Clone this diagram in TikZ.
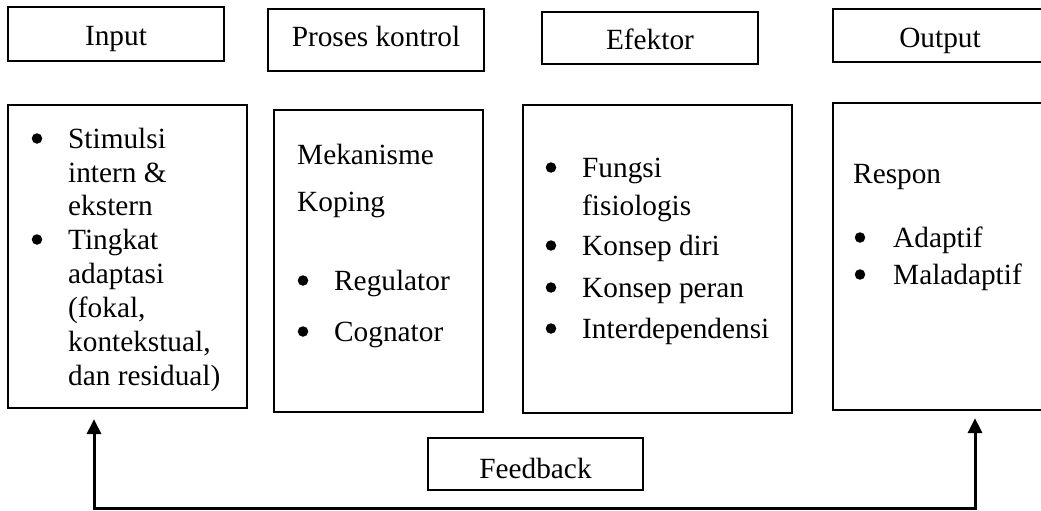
\documentclass[tikz,border=0pt]{standalone}
\usepackage{fontspec}
\setmainfont{Liberation Serif}
\usetikzlibrary{arrows.meta}
\tikzset{
  box/.style={draw, line width=2.2pt, rectangle, inner sep=0pt},
  txt/.style={font=\fontsize{29.3}{34}\selectfont, inner sep=0pt, anchor=base west},
  ctxt/.style={font=\fontsize{29.3}{34}\selectfont, inner sep=0pt, anchor=base},
  bul/.style={circle, fill, inner sep=0pt, minimum size=10.5pt},
  fbline/.style={line width=3pt, line join=miter, {Triangle[length=15pt,width=14pt]}-{Triangle[length=15pt,width=14pt]}}
}
\begin{document}
\begin{tikzpicture}[x=1pt,y=-1pt]
\useasboundingbox (0,0) rectangle (1041,511);
\clip (0,0) rectangle (1041,511);
% top boxes
\node[box, minimum width=216pt, minimum height=54pt] (in_t) at (116,34) {};
\node[box, minimum width=216pt, minimum height=62pt] (pk_t) at (376,40) {};
\node[box, minimum width=216pt, minimum height=52pt] (ef_t) at (650,38) {};
\node[box, minimum width=214pt, minimum height=53pt] (out_t) at (940,35.5) {};
\node[ctxt] (in_tl) at (116,46) {Input};
\node[ctxt] (pk_tl) at (376,47) {Proses kontrol};
\node[ctxt] (ef_tl) at (650,50) {Efektor};
\node[ctxt] (out_tl) at (940,48) {Output};
% lower boxes
\node[box, minimum width=239pt, minimum height=303pt] (in_b) at (127.5,256.5) {};
\node[box, minimum width=209pt, minimum height=302pt] (pk_b) at (378.5,261) {};
\node[box, minimum width=269pt, minimum height=308pt] (ef_b) at (657.5,259) {};
\node[box, minimum width=227pt, minimum height=307pt] (out_b) at (946.5,256.5) {};
\node[box, minimum width=215pt, minimum height=52pt] (fb) at (535.5,464) {};
\node[ctxt] (fbl) at (535.5,478) {Feedback};
% input items
\node[bul] (ib1) at (37,138.5) {};
\node[txt] (i1) at (68,148) {Stimulsi};
\node[txt] (i2) at (68,182) {intern \&};
\node[txt] (i3) at (68,215) {ekstern};
\node[bul] (ib2) at (37,239.5) {};
\node[txt] (i4) at (68,249) {Tingkat};
\node[txt] (i5) at (68,283) {adaptasi};
\node[txt] (i6) at (68,317) {(fokal,};
\node[txt] (i7) at (68,351) {kontekstual,};
\node[txt] (i8) at (68,385) {dan residual)};
% proses items
\node[txt] (p1) at (297,164) {Mekanisme};
\node[txt] (p2) at (297,211) {Koping};
\node[bul] (pb1) at (303,280.5) {};
\node[txt] (p3) at (334,290) {Regulator};
\node[bul] (pb2) at (303,331.5) {};
\node[txt] (p4) at (334,341) {Cognator};
% efektor items
\node[bul] (eb1) at (551,167.5) {};
\node[txt] (e1) at (582,177) {Fungsi};
\node[txt] (e2) at (582,215) {fisiologis};
\node[bul] (eb2) at (551,245.5) {};
\node[txt] (e3) at (582,255) {Konsep diri};
\node[bul] (eb3) at (551,287.5) {};
\node[txt] (e4) at (582,297) {Konsep peran};
\node[bul] (eb4) at (551,328.5) {};
\node[txt] (e5) at (582,338) {Interdependensi};
% output items
\node[txt] (o1) at (853,183) {Respon};
\node[bul] (ob1) at (860,237.5) {};
\node[txt] (o2) at (893,247) {Adaptif};
\node[bul] (ob2) at (860,274.5) {};
\node[txt] (o3) at (893,284) {Maladaptif};
% feedback arrow
\coordinate (fbL) at ([yshift=-10pt]in_b.south -| 94,0);
\coordinate (fbR) at ([yshift=-7pt]out_b.south -| 975,0);
\coordinate (fbC) at (94,508);
\draw[fbline] (fbL) -- (fbC) -| (fbR);
\end{tikzpicture}
\end{document}
